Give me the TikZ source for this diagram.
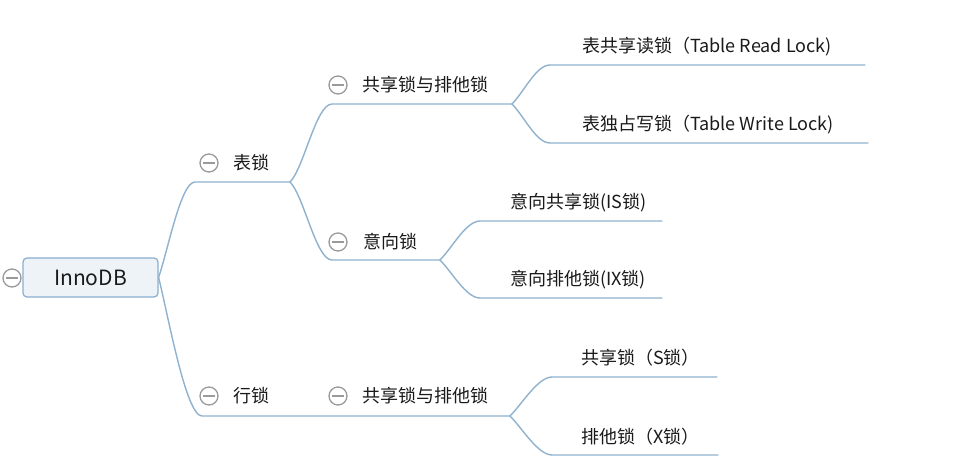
\documentclass[tikz,border=0pt]{standalone}
\usepackage{fontspec}
\setmainfont{Noto Sans CJK SC}
\definecolor{lnc}{HTML}{8FB2CF}
\definecolor{boxfill}{HTML}{EEF3F8}
\definecolor{boxline}{HTML}{8AAECF}
\definecolor{collc}{HTML}{9A9A9A}
\definecolor{txt}{HTML}{1A1A1A}
\begin{document}
\begin{tikzpicture}[x=1pt,y=-1pt,
  conn/.style={draw=lnc, line width=1.4pt, line cap=round},
  lbl/.style={anchor=west, inner sep=0pt, font=\fontsize{18}{21}\selectfont, text=txt},
  coll/.style={circle, draw=collc, fill=white, line width=1.3pt, minimum size=18pt, inner sep=0pt,
    path picture={\draw[collc, line width=1.3pt] ([xshift=-6pt]path picture bounding box.center) -- ([xshift=6pt]path picture bounding box.center);}},
  rootbox/.style={draw=boxline, fill=boxfill, line width=1.2pt, rounded corners=4pt,
    minimum width=135pt, minimum height=39pt, inner sep=0pt, text=txt, font=\fontsize{21}{24}\selectfont}]
\useasboundingbox (0,0) rectangle (978,470);
\fill[white] (0,0) rectangle (978,470);

% coordinates for underlines
\coordinate (u1s) at (195,182);   \coordinate (u1e) at (290,182);
\coordinate (u11s) at (332,104);  \coordinate (u11e) at (512,104);
\coordinate (u111s) at (550,65);  \coordinate (u111e) at (865,65);
\coordinate (u112s) at (550,143); \coordinate (u112e) at (868,143);
\coordinate (u12s) at (332,260);  \coordinate (u12e) at (440,260);
\coordinate (u121s) at (480,221); \coordinate (u121e) at (662,221);
\coordinate (u122s) at (480,298); \coordinate (u122e) at (662,298);
\coordinate (u2s) at (202,416);
\coordinate (u21e) at (510,416);
\coordinate (u211s) at (552,377); \coordinate (u211e) at (717,377);
\coordinate (u212s) at (552,455); \coordinate (u212e) at (718,455);

% root
\node[rootbox] (root) at (90.5,277.5) {InnoDB};
\node[coll] (c0) at (12,278) {};

% connectors
\draw[conn] (root.east) .. controls +(10,-30) and +(-14,0) .. (u1s) -- (u1e);
\draw[conn] (root.east) .. controls +(10,40) and +(-16,0) .. (u2s) -- (u21e);
\draw[conn] (u1e) .. controls +(14,-14) and +(-16,0) .. (u11s) -- (u11e);
\draw[conn] (u1e) .. controls +(14,14) and +(-16,0) .. (u12s) -- (u12e);
\draw[conn] (u11e) .. controls +(12,-12) and +(-14,0) .. (u111s) -- (u111e);
\draw[conn] (u11e) .. controls +(12,12) and +(-14,0) .. (u112s) -- (u112e);
\draw[conn] (u12e) .. controls +(12,-12) and +(-14,0) .. (u121s) -- (u121e);
\draw[conn] (u12e) .. controls +(12,12) and +(-14,0) .. (u122s) -- (u122e);
\draw[conn] (u21e) .. controls +(12,-12) and +(-14,0) .. (u211s) -- (u211e);
\draw[conn] (u21e) .. controls +(12,12) and +(-14,0) .. (u212s) -- (u212e);

% collapse markers
\node[coll] (c1) at (209,163) {};
\node[coll] (c11) at (338,85) {};
\node[coll] (c12) at (338,242) {};
\node[coll] (c2) at (209,396) {};
\node[coll] (c21) at (338,396) {};

% labels
\node[lbl] (t1) at (233,163) {表锁};
\node[lbl] (t11) at (362,85) {共享锁与排他锁};
\node[lbl] (t111) at (582,47) {表共享读锁（Table Read Lock)};
\node[lbl] (t112) at (582,125) {表独占写锁（Table Write Lock)};
\node[lbl] (t12) at (363,242) {意向锁};
\node[lbl] (t121) at (510,203) {意向共享锁(IS锁)};
\node[lbl] (t122) at (510,280) {意向排他锁(IX锁)};
\node[lbl] (t2) at (233,396) {行锁};
\node[lbl] (t21) at (362,396) {共享锁与排他锁};
\node[lbl] (t211) at (581,358) {共享锁（S锁）};
\node[lbl] (t212) at (581,437) {排他锁（X锁）};
\end{tikzpicture}
\end{document}
